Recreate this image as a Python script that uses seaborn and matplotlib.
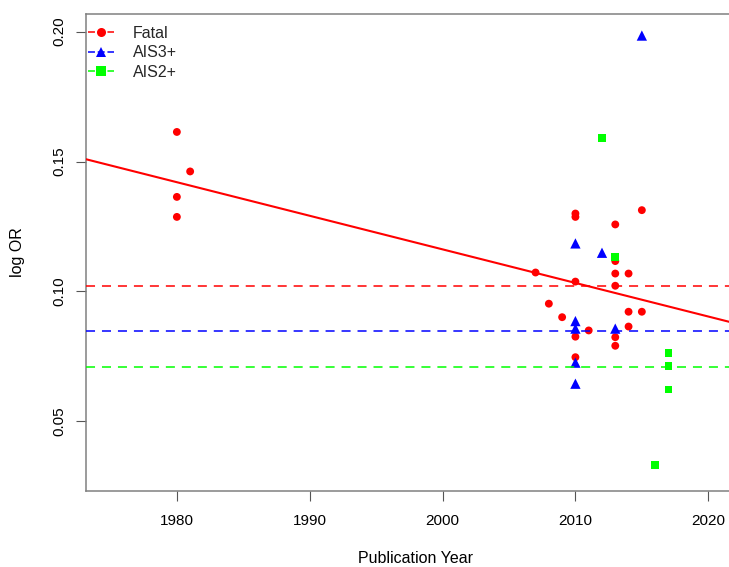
import numpy as np
import pandas as pd
import matplotlib
matplotlib.use("Agg")
import matplotlib.pyplot as plt
import seaborn as sns
from matplotlib.lines import Line2D

# ---- data ----
fatal_year = [1980, 1980, 1980, 1981, 2007, 2008, 2009, 2010, 2010, 2010, 2010, 2010,
              2011, 2013, 2013, 2013, 2013, 2013, 2013, 2014, 2014, 2014, 2015, 2015]
fatal_val = [0.1614, 0.1364, 0.1287, 0.1462, 0.1073, 0.0953, 0.0901, 0.1300, 0.1287,
             0.1038, 0.0826, 0.0747, 0.0850, 0.1258, 0.1117, 0.1069, 0.1022, 0.0824,
             0.0791, 0.1069, 0.0922, 0.0865, 0.1313, 0.0922]

ais3_year = [2010, 2012, 2010, 2010, 2013, 2010, 2010, 2015]
ais3_val = [0.1185, 0.1149, 0.0886, 0.0857, 0.0857, 0.0726, 0.0645, 0.1985]

ais2_year = [2012, 2013, 2017, 2017, 2017, 2016]
ais2_val = [0.1591, 0.1132, 0.0764, 0.0713, 0.0623, 0.0332]

pooled_fatal = 0.1020
pooled_ais3 = 0.0846
pooled_ais2 = 0.0708

series_names = ["Fatal", "AIS3+", "AIS2+"]
x_ticks = [1980, 1990, 2000, 2010, 2020]
y_ticks = [0.05, 0.10, 0.15, 0.20]
y_tick_labels = ["0.05", "0.10", "0.15", "0.20"]

# ---- style ----
sns.set_theme(style="white")
plt.rcParams['font.family'] = ['Liberation Sans', 'DejaVu Sans']
plt.rcParams['lines.scale_dashes'] = False

colors = {"Fatal": "#FF0000", "AIS3+": "#0000FF", "AIS2+": "#00FF00"}
markers = {"Fatal": "o", "AIS3+": "^", "AIS2+": "s"}
msize = {"Fatal": 32, "AIS3+": 55, "AIS2+": 30}
dash = (6.5, 5)

fig = plt.figure(figsize=(7.29, 5.67), dpi=100)
ax = fig.add_axes([86 / 729, 76 / 567, 660 / 729, 477 / 567])
ax.set_xlim(1973.16, 2022.84)
ax.set_ylim(0.0232, 0.2068)

df = pd.concat([
    pd.DataFrame({"year": fatal_year, "logor": fatal_val, "outcome": "Fatal"}),
    pd.DataFrame({"year": ais3_year, "logor": ais3_val, "outcome": "AIS3+"}),
    pd.DataFrame({"year": ais2_year, "logor": ais2_val, "outcome": "AIS2+"}),
], ignore_index=True)

for name in series_names:
    sub = df[df["outcome"] == name]
    sns.scatterplot(data=sub, x="year", y="logor", color=colors[name],
                    marker=markers[name], s=msize[name], edgecolor="none",
                    linewidth=0, legend=False, ax=ax, zorder=3)

sns.regplot(x=fatal_year, y=fatal_val, ax=ax, scatter=False, ci=None,
            truncate=False, color=colors["Fatal"], line_kws=dict(lw=1.5, zorder=4))
ax.set_xlim(1973.16, 2022.84)
ax.set_ylim(0.0232, 0.2068)

for name, val in zip(series_names, [pooled_fatal, pooled_ais3, pooled_ais2]):
    ax.axhline(val, color=colors[name], lw=1.1, dashes=dash, zorder=4)

# ---- axes styling ----
for sp in ["left", "bottom", "top"]:
    ax.spines[sp].set_color("#808080")
    ax.spines[sp].set_linewidth(1.1)
ax.spines["right"].set_visible(False)

ax.set_xticks(x_ticks)
ax.set_xticklabels([str(t) for t in x_ticks])
ax.set_yticks(y_ticks)
ax.set_yticklabels(y_tick_labels, rotation=90, va="center")
ax.tick_params(axis="both", which="major", bottom=True, left=True,
               direction="out", length=7.2, width=0.8,
               color="#555555", labelsize=11, labelcolor="black")
ax.tick_params(axis="x", pad=9.5)
ax.tick_params(axis="y", pad=7)

ax.set_xlabel("Publication Year", fontsize=11.5, color="black")
ax.set_ylabel("log OR", fontsize=11.5, color="black")
ax.xaxis.set_label_coords(0.5, -0.126)
ax.yaxis.set_label_coords(-0.093, 0.5)

handles = [Line2D([0], [0], color=colors[n], marker=markers[n], lw=1.1,
                  dashes=(5, 2), markersize=6.5 if n != "AIS3+" else 7.5,
                  markeredgewidth=0) for n in series_names]
leg = ax.legend(handles, series_names, loc="upper left",
                bbox_to_anchor=(0.003, 0.975), frameon=False, fontsize=11.5,
                handlelength=1.6, handletextpad=1.2, labelspacing=0.27,
                borderpad=0, borderaxespad=0)

fig.savefig("out.png", dpi=100)
